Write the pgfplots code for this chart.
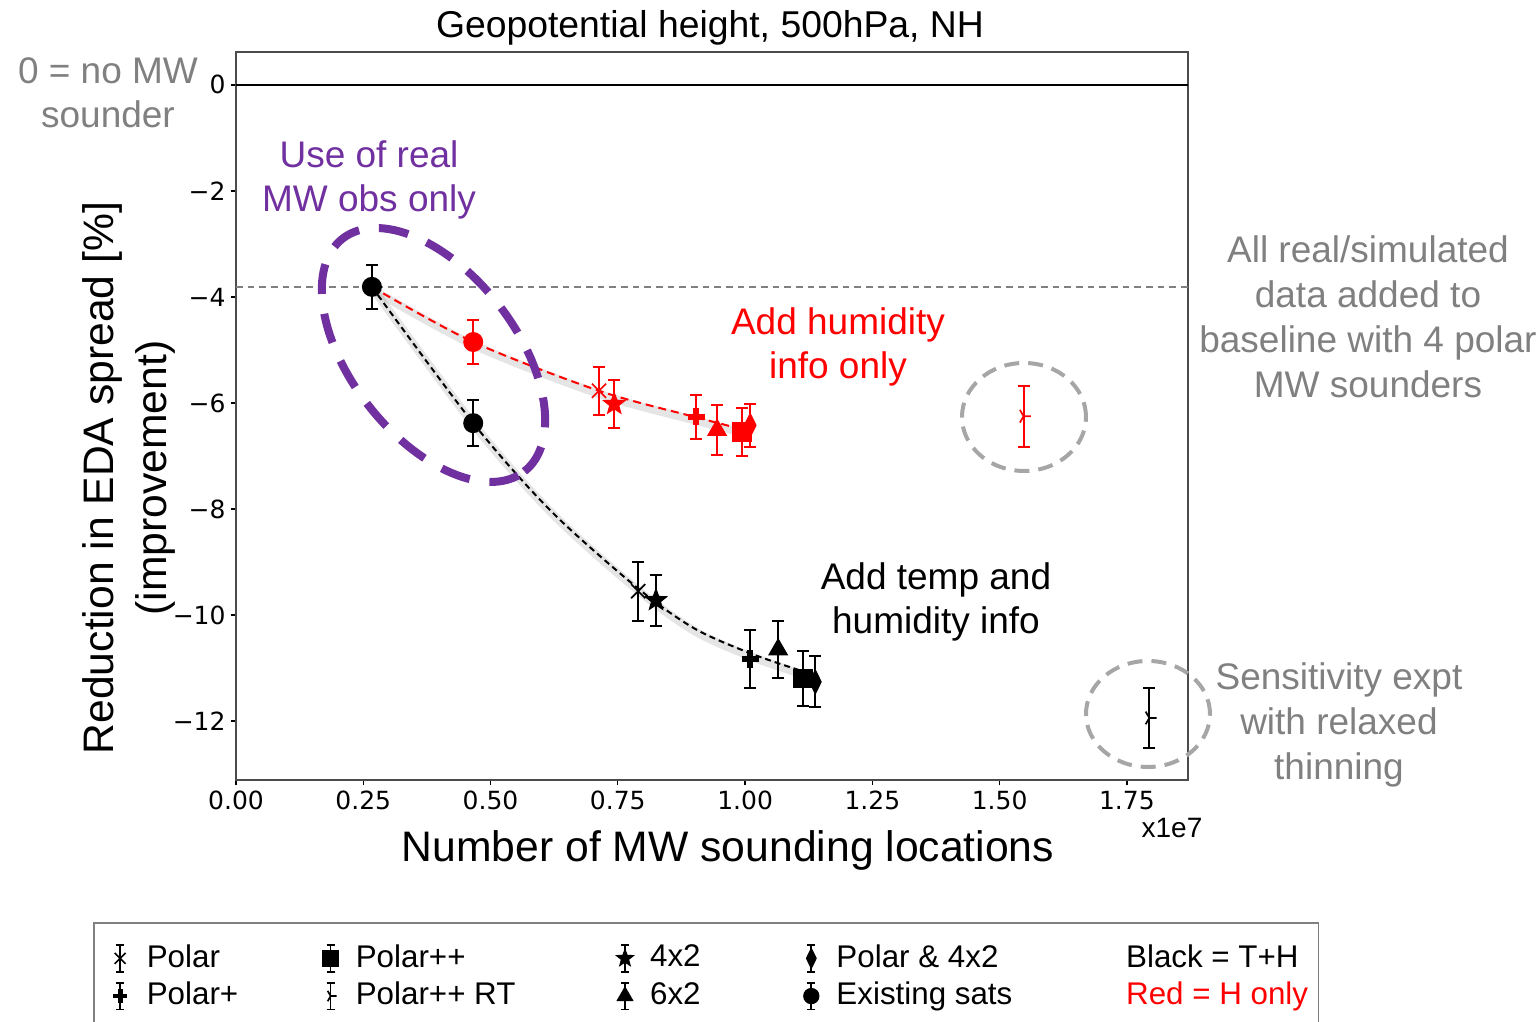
\documentclass[border=0pt]{standalone}
\usepackage{fontspec}
\setmainfont{Liberation Sans}
\newfontfamily\tickfont{DejaVu Sans}
\usepackage{pgfplots}
\pgfplotsset{compat=1.18}

\definecolor{mwpurple}{RGB}{112,48,160}
\definecolor{notegray}{RGB}{128,128,128}
\definecolor{ringgray}{RGB}{166,166,166}

% fixed-width legend text cells
\newcommand{\lcol}[2]{\makebox[#1][l]{#2}}

% matplotlib-like tri_right marker
\pgfdeclareplotmark{triright}{%
  \pgfpathmoveto{\pgfpointorigin}\pgfpathlineto{\pgfqpoint{\pgfplotmarksize}{0pt}}%
  \pgfpathmoveto{\pgfpointorigin}\pgfpathlineto{\pgfpointpolar{120}{\pgfplotmarksize}}%
  \pgfpathmoveto{\pgfpointorigin}\pgfpathlineto{\pgfpointpolar{240}{\pgfplotmarksize}}%
  \pgfusepathqstroke}
% filled five-point star
\pgfdeclareplotmark{fstar}{%
  \pgfpathmoveto{\pgfpointpolar{90}{\pgfplotmarksize}}%
  \pgfpathlineto{\pgfpointpolar{126}{0.42\pgfplotmarksize}}%
  \pgfpathlineto{\pgfpointpolar{162}{\pgfplotmarksize}}%
  \pgfpathlineto{\pgfpointpolar{198}{0.42\pgfplotmarksize}}%
  \pgfpathlineto{\pgfpointpolar{234}{\pgfplotmarksize}}%
  \pgfpathlineto{\pgfpointpolar{270}{0.42\pgfplotmarksize}}%
  \pgfpathlineto{\pgfpointpolar{306}{\pgfplotmarksize}}%
  \pgfpathlineto{\pgfpointpolar{342}{0.42\pgfplotmarksize}}%
  \pgfpathlineto{\pgfpointpolar{18}{\pgfplotmarksize}}%
  \pgfpathlineto{\pgfpointpolar{54}{0.42\pgfplotmarksize}}%
  \pgfpathclose
  \pgfusepathqfillstroke}

\pgfplotsset{
  errpt/.style={
    /pgfplots/error bars/y dir=both,
    /pgfplots/error bars/y explicit,
    /pgfplots/error bars/error bar style={line width=0.6pt, solid},
    /pgfplots/error bars/error mark options={rotate=90, mark size=1.8pt, line width=0.6pt}},
  mPolar/.style={only marks, mark=x, mark size=3pt, line width=0.5pt},
  mPolarP/.style={only marks, mark=+, mark size=2.6pt, line width=1.7pt},
  mPolarPP/.style={only marks, mark=square*, mark size=2.7pt},
  mRT/.style={only marks, mark=triright, mark size=2.2pt, line width=0.5pt},
  mFour/.style={only marks, mark=fstar, mark size=3.4pt, line width=0.3pt},
  mSix/.style={only marks, mark=triangle*, mark size=3.1pt},
  mDiam/.style={only marks, mark=diamond*, mark size=3.5pt, mark options={xscale=0.65}},
  mExist/.style={only marks, mark=*, mark size=2.8pt},
}

\begin{document}
\begin{tikzpicture}
\useasboundingbox (-70.8pt,-72.6pt) rectangle (390.9pt,234pt);
\begin{axis}[
    at={(0pt,0pt)}, anchor=south west,
    scale only axis, width=285.6pt, height=218.4pt,
    xmin=0, xmax=1.870, ymin=-13.11, ymax=0.62,
    axis line style={black!70, line width=0.4pt},
    xtick={0,0.25,0.5,0.75,1,1.25,1.5,1.75},
    xticklabels={0.00,0.25,0.50,0.75,1.00,1.25,1.50,1.75},
    ytick={-12,-10,-8,-6,-4,-2,0},
    yticklabels={−12,−10,−8,−6,−4,−2,0},
    tick align=outside, tick pos=left, major tick length=1.6pt,
    tick style={black, line width=0.4pt},
    ticklabel style={font=\tickfont\fontsize{7.5}{9}\selectfont},
    xticklabel style={yshift=1.8pt},
    yticklabel style={xshift=2pt},
    clip=false,
    legend columns=5,
    legend cell align=left,
    legend style={at={(axis description cs:-0.1502,-0.1951)}, anchor=north west,
        draw=black!50, line width=0.5pt,
        inner xsep=1.1pt, inner ysep=4.5pt, row sep=-1pt,
        font=\fontsize{9.4}{11}\selectfont,
        /tikz/every odd column/.append style={column sep=1.8pt},
        /tikz/every even column/.append style={column sep=0pt}},
    legend image code/.code={
        \path (-6.1pt,0pt) (3.5pt,0pt);
        \draw[#1, solid, line width=0.5pt] (0pt,-4pt) -- (0pt,4pt)
            (-1.2pt,-4pt) -- (1.2pt,-4pt) (-1.2pt,4pt) -- (1.2pt,4pt);
        \draw[#1] plot coordinates {(0pt,0pt)};
    },
]

% reference lines
\addplot[black, line width=0.8pt, forget plot] coordinates {(0,0) (1.87,0)};
\addplot[notegray, line width=0.5pt, dash pattern=on 2pt off 1.5pt, forget plot]
    coordinates {(0,-3.81) (1.87,-3.81)};

% fitted curves (with faint shadow)
\addplot[smooth, black, opacity=0.1, line width=2.5pt, xshift=0.8pt, yshift=-1.2pt, forget plot]
    coordinates {(0.267,-3.81) (0.466,-6.38) (0.62,-8.05) (0.79,-9.5) (0.9,-10.25) (1.01,-10.72) (1.11,-11.05)};
\addplot[smooth, black, opacity=0.1, line width=2.5pt, xshift=0.8pt, yshift=-1.2pt, forget plot]
    coordinates {(0.267,-3.81) (0.466,-4.85) (0.713,-5.77) (0.904,-6.27) (0.976,-6.45)};
\addplot[smooth, black, line width=0.6pt, dash pattern=on 1.8pt off 1.2pt, forget plot]
    coordinates {(0.267,-3.81) (0.466,-6.38) (0.62,-8.05) (0.79,-9.5) (0.9,-10.25) (1.01,-10.72) (1.11,-11.05)};
\addplot[smooth, red, line width=0.6pt, dash pattern=on 2.4pt off 1.5pt, forget plot]
    coordinates {(0.267,-3.81) (0.466,-4.85) (0.713,-5.77) (0.904,-6.27) (0.976,-6.45)};

% red: humidity info only
\addplot[red, mExist, errpt, forget plot] coordinates {(0.466,-4.85) +- (0,0.42)};
\addplot[red, mPolar, errpt, forget plot] coordinates {(0.713,-5.77) +- (0,0.45)};
\addplot[red, mFour, errpt, forget plot] coordinates {(0.743,-6.02) +- (0,0.46)};
\addplot[red, mPolarP, errpt, forget plot] coordinates {(0.904,-6.26) +- (0,0.41)};
\addplot[red, mSix, errpt, forget plot] coordinates {(0.945,-6.51) +- (0,0.48)};
\addplot[red, mPolarPP, errpt, forget plot] coordinates {(0.994,-6.55) +- (0,0.45)};
\addplot[red, mDiam, errpt, forget plot] coordinates {(1.010,-6.42) +- (0,0.41)};
\addplot[red, mRT, errpt, forget plot] coordinates {(1.547,-6.25) +- (0,0.575)};

% black: temperature and humidity
\addplot[black, mExist, errpt, forget plot] coordinates {(0.267,-3.81) +- (0,0.42)};
\addplot[black, mExist, errpt, forget plot] coordinates {(0.466,-6.38) +- (0,0.43)};
\addplot[black, mPolar, errpt, forget plot] coordinates {(0.790,-9.55) +- (0,0.56)};
\addplot[black, mFour, errpt, forget plot] coordinates {(0.825,-9.72) +- (0,0.485)};
\addplot[black, mPolarP, errpt, forget plot] coordinates {(1.010,-10.83) +- (0,0.54)};
\addplot[black, mSix, errpt, forget plot] coordinates {(1.065,-10.65) +- (0,0.535)};
\addplot[black, mPolarPP, errpt, forget plot] coordinates {(1.114,-11.19) +- (0,0.52)};
\addplot[black, mDiam, errpt, forget plot] coordinates {(1.138,-11.26) +- (0,0.48)};
\addplot[black, mRT, errpt, forget plot] coordinates {(1.794,-11.94) +- (0,0.56)};

% legend
\addlegendimage{black, mPolar, mark size=2.3pt}
\addlegendentry{\lcol{46.8pt}{Polar}}
\addlegendimage{black, mPolarPP, mark size=2.2pt}
\addlegendentry{\lcol{72.4pt}{Polar++}}
\addlegendimage{black, mFour, mark size=2.7pt}
\addlegendentry{\lcol{40pt}{4x2}}
\addlegendimage{black, mDiam, mark size=2.8pt}
\addlegendentry{\lcol{81.1pt}{Polar \& 4x2}}
\addlegendimage{empty legend}
\addlegendentry{Black = T+H}
\addlegendimage{black, mPolarP, mark size=2.1pt, line width=1.4pt}
\addlegendentry{\lcol{46.8pt}{Polar+}}
\addlegendimage{black, mRT, mark size=1.8pt}
\addlegendentry{\lcol{72.4pt}{Polar++ RT}}
\addlegendimage{black, mSix, mark size=2.5pt}
\addlegendentry{\lcol{40pt}{6x2}}
\addlegendimage{black, mExist, mark size=2.2pt}
\addlegendentry{\lcol{81.1pt}{Existing sats}}
\addlegendimage{empty legend}
\addlegendentry{\textcolor{red}{Red = H only}}
\end{axis}

% annotation rings
\draw[mwpurple, line width=2.4pt, dash pattern=on 9pt off 6pt, rotate around={-52:(59.25pt,127.5pt)}]
    (59.25pt,127.5pt) ellipse [x radius=44.3pt, y radius=24.7pt];
\draw[ringgray, line width=1.2pt, dash pattern=on 4.5pt off 2.7pt]
    (236.4pt,108.9pt) ellipse [x radius=18.6pt, y radius=16.2pt];
\draw[ringgray, line width=1.2pt, dash pattern=on 4.5pt off 2.7pt]
    (273.6pt,19.8pt) ellipse [x radius=18.6pt, y radius=15.9pt];

% texts
\node[anchor=base, font=\fontsize{11.2}{13}\selectfont] at (142.2pt,222.6pt) {Geopotential height, 500hPa, NH};
\begin{scope}[every node/.style={anchor=base, font=\fontsize{11.1}{13}\selectfont}]
\node[notegray] at (-38.4pt,208.8pt) {0 = no MW};
\node[notegray] at (-38.4pt,195.6pt) {sounder};
\node[mwpurple] at (39.9pt,183.6pt) {Use of real};
\node[mwpurple] at (39.9pt,170.4pt) {MW obs only};
\node[red] at (180.6pt,133.5pt) {Add humidity};
\node[red] at (180.6pt,120.3pt) {info only};
\node at (210pt,57pt) {Add temp and};
\node at (210pt,43.8pt) {humidity info};
\node[notegray] at (339.6pt,155.1pt) {All real/simulated};
\node[notegray] at (339.6pt,141.6pt) {data added to};
\node[notegray] at (339.6pt,128.1pt) {baseline with 4 polar};
\node[notegray] at (339.6pt,114.6pt) {MW sounders};
\node[notegray] at (330.9pt,27pt) {Sensitivity expt};
\node[notegray] at (330.9pt,13.5pt) {with relaxed};
\node[notegray] at (330.9pt,0pt) {thinning};
\end{scope}
\node[anchor=base, font=\fontsize{8.4}{10}\selectfont] at (280.8pt,-17.4pt) {x1e7};
\node[anchor=base, font=\fontsize{12.8}{15}\selectfont] at (147.6pt,-24.6pt) {Number of MW sounding locations};
\node[rotate=90, font=\fontsize{12.8}{15}\selectfont] at (-40.2pt,90.6pt) {Reduction in EDA spread [\%]};
\node[rotate=90, font=\fontsize{12.8}{15}\selectfont] at (-24.3pt,90.6pt) {(improvement)};
\end{tikzpicture}
\end{document}
